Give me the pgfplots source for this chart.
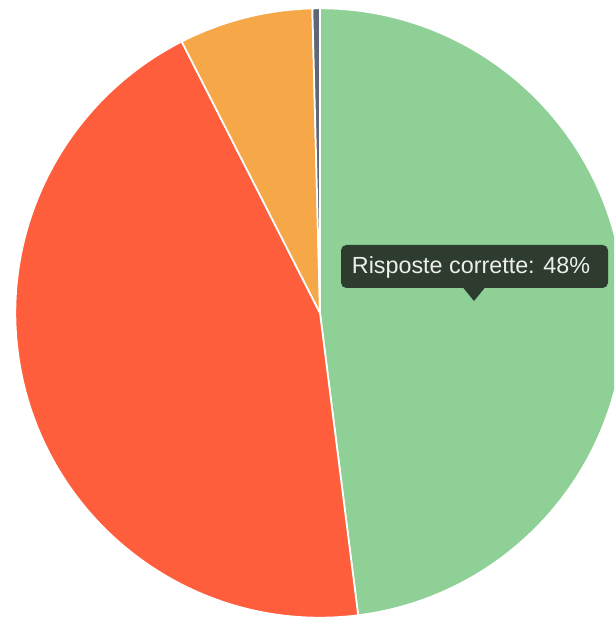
\documentclass[border=0pt]{standalone}
\usepackage{pgfplots}
\pgfplotsset{compat=1.18}
\usepackage{fontspec}
\setmainfont{Liberation Sans}
\definecolor{cGreen}{HTML}{8ED095}
\definecolor{cRed}{HTML}{FF5E3D}
\definecolor{cOrange}{HTML}{F6A848}
\definecolor{cDark}{HTML}{5E6678}
\definecolor{cTip}{HTML}{2E3B2F}
\definecolor{cTipText}{HTML}{ECEFEC}
% slice: start percent, end percent, colour
\newcommand{\slice}[3]{%
  \filldraw[fill=#3, draw=white, line width=1.3pt, line join=round]
    (axis cs:320,307) -- ++({90-3.6*#1}:228.5pt)
    arc[start angle={90-3.6*#1}, end angle={90-3.6*#2}, radius=228.5pt] -- cycle;}
\begin{document}
\begin{tikzpicture}
\begin{axis}[
  scale only axis, width=460.5pt, height=465pt,
  xmin=0, xmax=614, ymin=0, ymax=620,
  hide axis, clip=true,
]
% values (percent): Risposte corrette 48, 44.5, 7.1, 0.4
\addplot[draw=none, forget plot] coordinates {(0,0) (614,620)};
\slice{0}{48}{cGreen}
\slice{48}{92.5}{cRed}
\slice{92.5}{99.6}{cOrange}
\slice{99.6}{100}{cDark}
% tooltip
\fill[cTip, rounded corners=4pt] (axis cs:341,332) rectangle (axis cs:608,375);
\fill[cTip] (axis cs:463,332.5) -- (axis cs:485,332.5) -- (axis cs:474,319) -- cycle;
\node[text=cTipText, font=\fontsize{17.5}{19}\selectfont, inner sep=0pt]
  at (axis cs:471,353) {Risposte corrette: 48\%};
\end{axis}
\end{tikzpicture}
\end{document}
